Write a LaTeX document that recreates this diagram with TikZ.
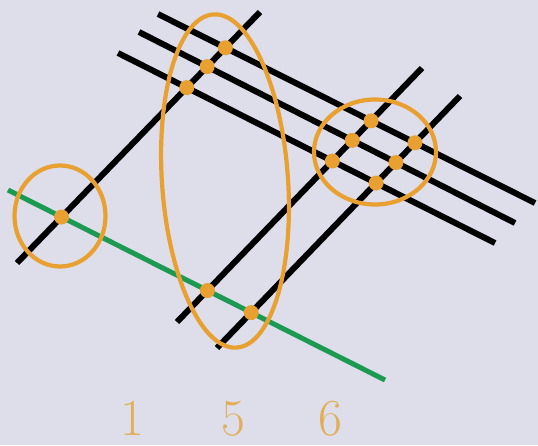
\documentclass[tikz,border=0pt]{standalone}
\usetikzlibrary{calc}
\definecolor{bgc}{HTML}{DEDDEA}
\definecolor{orng}{HTML}{E8A030}
\definecolor{lbl}{HTML}{E2AE58}
\definecolor{grn}{HTML}{1C9A52}
\begin{document}
\begin{tikzpicture}[x=1pt,y=-1pt,
  blk/.style={line width=6pt,black},
  grline/.style={line width=5pt,grn},
  ring/.style={line width=4.2pt,orng},
  dot/.style={circle,fill=orng,inner sep=0pt,minimum size=15pt},
  num/.style={text=lbl,font=\fontsize{52}{52}\selectfont,anchor=base,inner sep=0pt}]
\fill[bgc] (0,0) rectangle (538,445);
\useasboundingbox (0,0) rectangle (538,445);
% line endpoints
\coordinate (A1) at (17,263);  \coordinate (A2) at (260,12);
\coordinate (B1) at (177,322); \coordinate (B2) at (422,68);
\coordinate (C1) at (217,348); \coordinate (C2) at (460,96);
\coordinate (P1a) at (158,14); \coordinate (P1b) at (535,203);
\coordinate (P2a) at (139,32); \coordinate (P2b) at (515,223);
\coordinate (P3a) at (118,53); \coordinate (P3b) at (495,243);
\coordinate (G1) at (8,190);   \coordinate (G2) at (385,380);
% black lines
\draw[blk] (A1) -- (A2);
\draw[blk] (B1) -- (B2);
\draw[blk] (C1) -- (C2);
\draw[blk] (P1a) -- (P1b);
\draw[blk] (P2a) -- (P2b);
\draw[blk] (P3a) -- (P3b);
% green line
\draw[grline] (G1) -- (G2);
% rings
\coordinate (cl) at (60,216);
\coordinate (cm) at (225,181);
\coordinate (cr) at (375,152);
\draw[ring] (cl) ellipse [x radius=45.5, y radius=50.5];
\draw[ring,rotate around={4:(cm)}] (cm) ellipse [x radius=63, y radius=167];
\draw[ring] (cr) ellipse [x radius=61, y radius=52.5];
% dots
\node[dot] (d1) at (intersection of A1--A2 and G1--G2) {};
\node[dot] (d2) at (intersection of A1--A2 and P1a--P1b) {};
\node[dot] (d3) at (intersection of A1--A2 and P2a--P2b) {};
\node[dot] (d4) at (intersection of A1--A2 and P3a--P3b) {};
\node[dot] (d5) at (intersection of B1--B2 and G1--G2) {};
\node[dot] (d6) at (intersection of C1--C2 and G1--G2) {};
\node[dot] (d7) at (intersection of B1--B2 and P1a--P1b) {};
\node[dot] (d8) at (intersection of B1--B2 and P2a--P2b) {};
\node[dot] (d9) at (intersection of B1--B2 and P3a--P3b) {};
\node[dot] (d10) at (intersection of C1--C2 and P1a--P1b) {};
\node[dot] (d11) at (intersection of C1--C2 and P2a--P2b) {};
\node[dot] (d12) at (intersection of C1--C2 and P3a--P3b) {};
% labels
\node[num] (n1) at (132,435) {1};
\node[num] (n5) at (233,435) {5};
\node[num] (n6) at (330,435) {6};
\end{tikzpicture}
\end{document}
